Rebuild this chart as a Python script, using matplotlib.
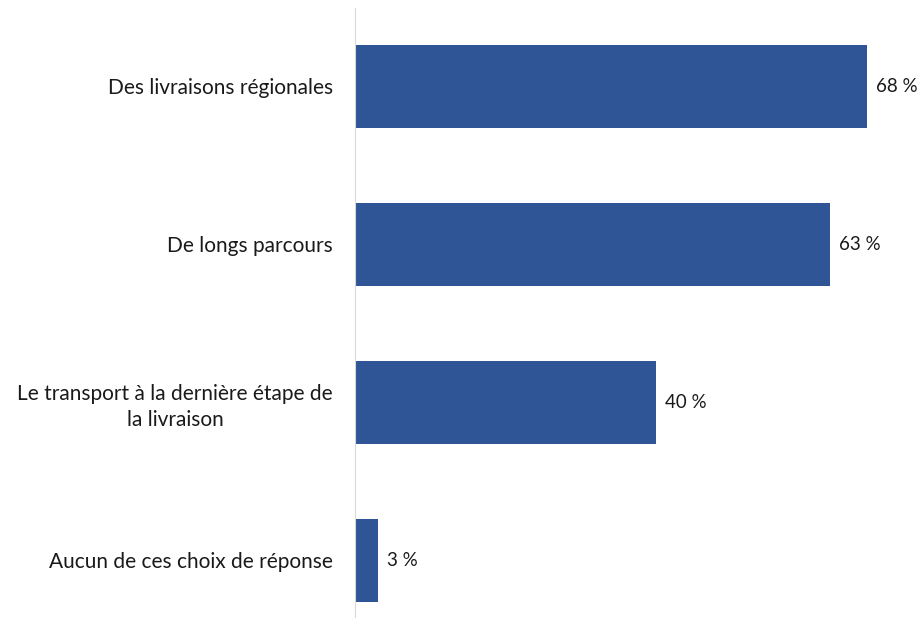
import matplotlib.pyplot as plt

plt.rcParams['font.family'] = ['Lato', 'DejaVu Sans']

categories = [
    "Des livraisons régionales",
    "De longs parcours",
    "Le transport à la dernière étape de\nla livraison",
    "Aucun de ces choix de réponse",
]
values = [68, 63, 40, 3]
value_labels = ["68 %", "63 %", "40 %", "3 %"]

fig = plt.figure(figsize=(9.21, 6.18), dpi=100)
ax = fig.add_axes([355 / 921, 0, 565 / 921, 610 / 618])

pos = range(len(categories))
ax.barh(pos, values, height=0.525, color="#2F5597")

for p, v, lab in zip(pos, values, value_labels):
    ax.text(v + 1.2, p, lab, va="center", ha="left", fontsize=13.5, color="#1a1a1a")

ax.set_yticks(list(pos))
ax.set_yticklabels(categories, fontsize=15, color="#1a1a1a", linespacing=1.35)
for t in ax.get_yticklabels():
    t.set_multialignment("center")
ax.tick_params(axis="y", length=0, pad=16)
ax.set_xticks([])
ax.set_xlim(0, 75)
ax.set_ylim(3.367, -0.497)

for s in ["top", "right", "bottom"]:
    ax.spines[s].set_visible(False)
ax.spines["left"].set_color("#D9D9D9")

fig.savefig("out.png", dpi=100)
